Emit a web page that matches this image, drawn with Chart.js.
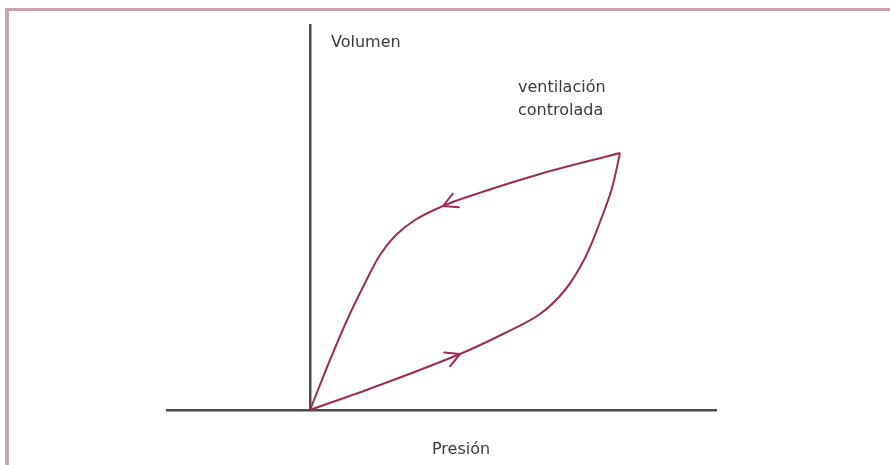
<!DOCTYPE html>
<html>
<head>
<meta charset="utf-8">
<script src="https://cdn.jsdelivr.net/npm/chart.js@4.4.1/dist/chart.umd.min.js"></script>
<style>
  body { margin: 0; background: #fff; }
  #wrap { position: relative; width: 890px; height: 465px; overflow: hidden; }
  #frame {
    position: absolute; left: 5px; top: 8px; right: -10px; bottom: -10px;
    border-top: 3px solid #c9a3b4; border-left: 4px solid #c9a3b4;
  }
  #loop { position: absolute; left: 0; top: 0; }
</style>
</head>
<body>
<div id="wrap">
  <div id="frame"></div>
  <canvas id="loop" width="890" height="465"></canvas>
</div>
<script>
// pressure-volume loop, arbitrary units
const inspPressure = [0, 70, 150, 195, 230, 255, 275, 290, 302, 310];
const inspVolume   = [0, 25, 56, 77, 96, 120, 152, 188, 222, 257];
const expPressure  = [310, 230, 160, 133, 105, 85, 70, 55, 38, 20, 8, 0];
const expVolume    = [257, 236, 214, 204, 190, 174, 155, 127, 92, 50, 20, 0];

const pressureRange = [-143, 406];
const volumeRange = [0, 385];

// [dataset, point index] where a direction arrow sits
const arrowMarks = [[0, 2], [1, 3]];

const notes = [
  { text: 'Volumen', x: 21, y: 367 },
  { text: 'ventilación', x: 208, y: 322 },
  { text: 'controlada', x: 208, y: 299 },
  { text: 'Presión', x: 122, y: -40 }
];

const curveColor = '#9c2b57';

const toPoints = (xs, ys) => xs.map((x, i) => ({ x: x, y: ys[i] }));

const arrowHeads = {
  id: 'arrowHeads',
  afterDatasetsDraw(chart) {
    const ctx = chart.ctx;
    arrowMarks.forEach(([ds, idx]) => {
      const pts = chart.getDatasetMeta(ds).data;
      const pt = pts[idx];
      const dx = pts[idx + 1].x - pts[idx - 1].x;
      const dy = pts[idx + 1].y - pts[idx - 1].y;
      ctx.save();
      ctx.translate(pt.x, pt.y);
      ctx.rotate(Math.atan2(dy, dx));
      ctx.beginPath();
      ctx.moveTo(-14, -7.5);
      ctx.lineTo(0, 0);
      ctx.lineTo(-14, 7.5);
      ctx.strokeStyle = curveColor;
      ctx.lineWidth = 2;
      ctx.lineCap = 'round';
      ctx.lineJoin = 'round';
      ctx.stroke();
      ctx.restore();
    });
  }
};

const textNotes = {
  id: 'textNotes',
  afterDraw(chart) {
    const ctx = chart.ctx;
    const xs = chart.scales.x, ys = chart.scales.y;
    ctx.save();
    ctx.font = '16px "DejaVu Sans", sans-serif';
    ctx.fillStyle = '#3a3a3a';
    ctx.textBaseline = 'middle';
    ctx.textAlign = 'left';
    notes.forEach(n => {
      ctx.fillText(n.text, xs.getPixelForValue(n.x), ys.getPixelForValue(n.y));
    });
    ctx.restore();
  }
};

new Chart(document.getElementById('loop'), {
  type: 'scatter',
  data: {
    datasets: [
      { data: toPoints(inspPressure, inspVolume) },
      { data: toPoints(expPressure, expVolume) }
    ]
  },
  options: {
    responsive: false,
    animation: false,
    layout: { padding: { left: 167, right: 174, top: 25, bottom: 47 } },
    elements: {
      line: { borderColor: curveColor, borderWidth: 2, tension: 0.35, fill: false },
      point: { radius: 0, hoverRadius: 0 }
    },
    datasets: { scatter: { showLine: true } },
    scales: {
      x: {
        type: 'linear',
        min: pressureRange[0],
        max: pressureRange[1],
        grid: { display: false },
        ticks: { display: false },
        border: { color: '#4a4a4a', width: 2.5 }
      },
      y: {
        type: 'linear',
        position: { x: 0 },
        min: volumeRange[0],
        max: volumeRange[1],
        grid: { display: false },
        ticks: { display: false },
        border: { color: '#4a4a4a', width: 2.5 }
      }
    },
    plugins: {
      legend: { display: false },
      tooltip: { enabled: false }
    }
  },
  plugins: [arrowHeads, textNotes]
});
</script>
</body>
</html>
